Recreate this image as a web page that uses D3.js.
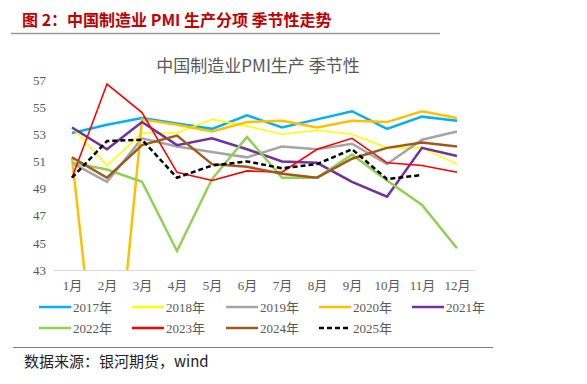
<!DOCTYPE html>
<html><head><meta charset="utf-8">
<script src="https://cdn.jsdelivr.net/npm/d3@7"></script>
<style>body{margin:0;background:#fff}svg{display:block}</style>
</head><body>
<svg id="c" width="587" height="384"></svg>
<script>
const months = ["1月","2月","3月","4月","5月","6月","7月","8月","9月","10月","11月","12月"];
const yTicks = [43,45,47,49,51,53,55,57];
const seriesNames = ["2017年","2018年","2019年","2020年","2021年","2022年","2023年","2024年","2025年"];
const v2017 = [53.1,53.7,54.2,53.8,53.4,54.4,53.5,54.1,54.7,53.4,54.3,54.0];
const v2018 = [53.5,50.7,53.1,53.1,54.1,53.6,53.0,53.3,53.0,52.0,52.0,50.8];
const v2019 = [50.9,49.5,52.7,52.1,51.7,51.3,52.1,51.9,52.3,50.8,52.6,53.2];
const v2020 = [51.3,27.8,54.1,53.7,53.2,53.9,54.0,53.5,54.0,53.9,54.7,54.2];
const v2021 = [53.5,51.9,53.9,52.2,52.7,51.9,51.0,50.9,49.5,48.4,52.0,51.4];
const v2022 = [50.9,50.4,49.5,44.4,49.7,52.8,49.8,49.8,51.5,49.6,47.8,44.6];
const v2023 = [49.8,56.7,54.6,50.2,49.6,50.3,50.2,51.9,52.7,50.9,50.7,50.2];
const v2024 = [51.3,49.8,52.2,52.9,50.8,50.6,50.1,49.8,51.2,52.0,52.4,52.1];
const v2025 = [49.8,52.5,52.6,49.8,50.7,51.0,50.5,50.8,51.9,49.7,50.0];
const seriesValues = [v2017,v2018,v2019,v2020,v2021,v2022,v2023,v2024,v2025];
const colors = ["#00B0F0","#FFFF00","#A5A5A5","#FFC000","#7030A0","#92D050","#FF0000","#9E5A1E","#000000"];
const widths = [2.5,1.6,2.5,2.5,2.5,2.5,1.6,2.5,2.5];

const svg = d3.select("#c");
const cjk = "'Noto Sans CJK SC', sans-serif";
const serif = "'Liberation Serif', 'Noto Sans CJK SC', serif";

// header
svg.append("text").attr("x",22).attr("y",26).attr("fill","#C00000")
  .attr("font-family",cjk).attr("font-weight","bold").attr("font-size",16)
  .text("图 2：中国制造业 PMI 生产分项 季节性走势");
svg.append("line").attr("x1",11).attr("x2",440).attr("y1",33.5).attr("y2",33.5)
  .attr("stroke","#9a9a9a").attr("stroke-width",1.5);

// chart title
svg.append("text").attr("x",258).attr("y",72).attr("text-anchor","middle")
  .attr("fill","#595959").attr("font-family",cjk).attr("font-size",17)
  .text("中国制造业PMI生产 季节性");

const x = d3.scalePoint().domain(months).range([72,457]);
const y = d3.scaleLinear().domain([43,57]).range([270,80]);

// y axis labels
const ya = svg.append("g").attr("transform","translate(46,0)")
  .call(d3.axisLeft(y).tickValues(yTicks).tickSize(0).tickPadding(0).tickFormat(d3.format("d")));
ya.select(".domain").remove();
ya.selectAll("text").attr("fill","#595959").attr("font-family",serif).attr("font-size",13);

// x axis
const xa = svg.append("g").attr("transform","translate(0,270)")
  .call(d3.axisBottom(x).tickSize(0).tickPadding(11));
xa.select(".domain").remove();
xa.selectAll("text").attr("fill","#595959").attr("font-family",serif).attr("font-size",13);
svg.append("line").attr("x1",54).attr("x2",476).attr("y1",270.5).attr("y2",270.5)
  .attr("stroke","#D9D9D9").attr("stroke-width",1.2);

// clip
svg.append("clipPath").attr("id","clip").append("rect")
  .attr("x",40).attr("y",60).attr("width",450).attr("height",210);

const line = d3.line().x((d,i)=>x(months[i])).y(d=>y(d));
const g = svg.append("g").attr("clip-path","url(#clip)");
seriesValues.forEach((vals,k)=>{
  g.append("path").datum(vals).attr("d",line).attr("fill","none")
    .attr("stroke",colors[k]).attr("stroke-width",widths[k])
    .attr("stroke-linejoin","miter")
    .attr("stroke-dasharray",k===8?"5,3":null);
});

// legend
const legX = [39,132,226,319,412];
seriesNames.forEach((n,k)=>{
  const row = Math.floor(k/5), col = k%5;
  const lx = legX[col], ly = 307 + row*21;
  svg.append("line").attr("x1",lx).attr("x2",lx+32).attr("y1",ly).attr("y2",ly)
    .attr("stroke",colors[k]).attr("stroke-width",k===8?2.5:2.5)
    .attr("stroke-dasharray",k===8?"5,3":null);
  svg.append("text").attr("x",lx+34).attr("y",ly+4.5).attr("fill","#595959")
    .attr("font-family",serif).attr("font-size",13).text(n);
});

// footer
svg.append("line").attr("x1",13).attr("x2",493).attr("y1",347.5).attr("y2",347.5)
  .attr("stroke","#7f7f7f").attr("stroke-width",1.2);
svg.append("text").attr("x",24).attr("y",367).attr("fill","#222")
  .attr("font-family",cjk).attr("font-size",15).text("数据来源：银河期货，wind");
</script>
</body></html>
